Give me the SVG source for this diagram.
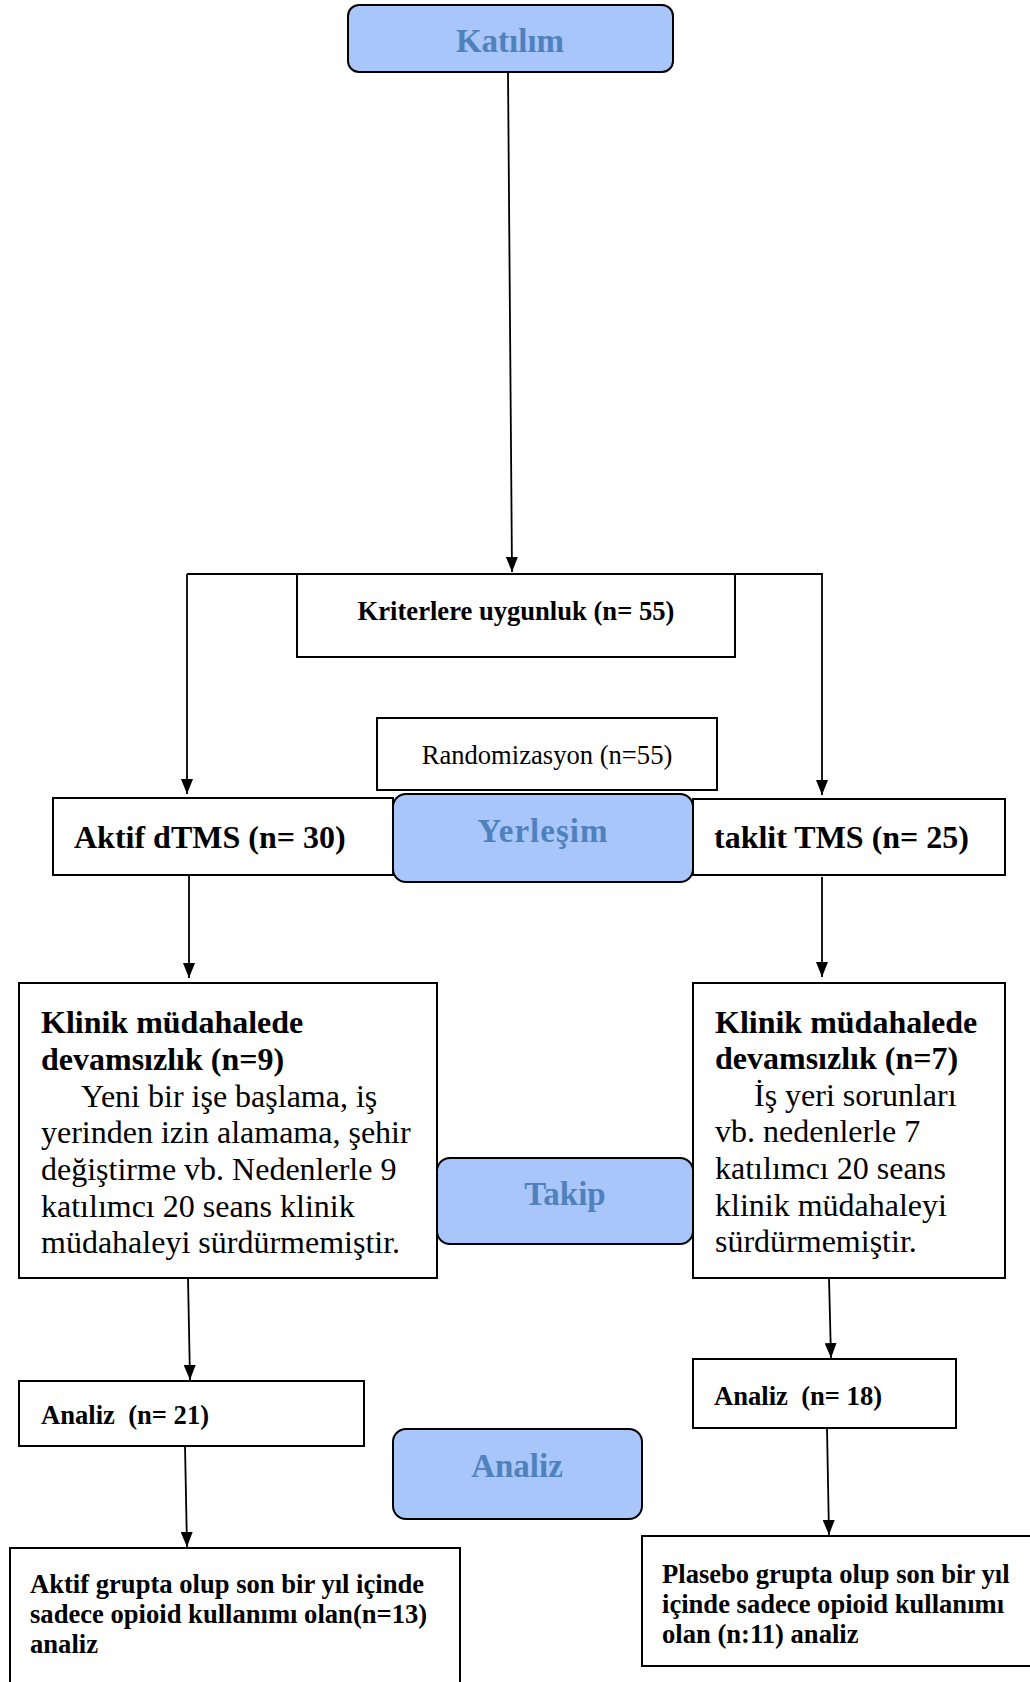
<svg xmlns="http://www.w3.org/2000/svg" width="1030" height="1682" viewBox="0 0 1030 1682">
<style>
.box{fill:#ffffff;stroke:#000000;stroke-width:2}
.blue{fill:#a9c6fa;stroke:#000000;stroke-width:2}
.bt{font-family:"Liberation Serif","Times New Roman",serif;font-weight:bold;fill:#4f81bd;font-size:33px;text-anchor:middle}
.b32{font-family:"Liberation Serif","Times New Roman",serif;font-weight:bold;font-size:32px;fill:#000}
.r32{font-family:"Liberation Serif","Times New Roman",serif;font-size:32px;fill:#000}
.b26{font-family:"Liberation Serif","Times New Roman",serif;font-weight:bold;font-size:26.6px;fill:#000}
.r26{font-family:"Liberation Serif","Times New Roman",serif;font-size:26.6px;fill:#000}
.ln{fill:none;stroke:#000;stroke-width:1.8}
</style>
<defs>
<marker id="ah2" viewBox="0 0 15 12" refX="15" refY="6" markerWidth="15" markerHeight="12" markerUnits="userSpaceOnUse" orient="auto">
<path d="M0,0 L15,6 L0,12 z" fill="#000"/>
</marker>
</defs>
<rect width="1030" height="1682" fill="#ffffff"/>

<g id="connectors">
<line class="ln" x1="508" y1="72" x2="512" y2="572" marker-end="url(#ah2)"/>
<polyline class="ln" points="187,574 822,574 822,795" marker-end="url(#ah2)"/>
<line class="ln" x1="187" y1="574" x2="187" y2="794" marker-end="url(#ah2)"/>
<line class="ln" x1="189" y1="875" x2="189" y2="978" marker-end="url(#ah2)"/>
<line class="ln" x1="822" y1="877" x2="822" y2="977" marker-end="url(#ah2)"/>
<line class="ln" x1="188" y1="1278" x2="190" y2="1380" marker-end="url(#ah2)"/>
<line class="ln" x1="829" y1="1278" x2="831" y2="1358" marker-end="url(#ah2)"/>
<line class="ln" x1="185" y1="1446" x2="187" y2="1547" marker-end="url(#ah2)"/>
<line class="ln" x1="827" y1="1428" x2="829" y2="1535" marker-end="url(#ah2)"/>
</g>

<g id="katilim">
<rect class="blue" x="348" y="5" width="325" height="67" rx="11"/>
<text class="bt" x="510" y="52">Katılım</text>
</g>

<g id="kriterlere">
<rect class="box" x="297" y="574" width="438" height="83"/>
<text class="b26" x="516" y="620" text-anchor="middle">Kriterlere uygunluk (n= 55)</text>
</g>

<g id="randomizasyon">
<rect class="box" x="377" y="718" width="340" height="72"/>
<text class="r26" x="547" y="764" text-anchor="middle">Randomizasyon (n=55)</text>
</g>

<g id="aktif">
<rect class="box" x="53" y="798" width="340" height="77"/>
<text class="b32" x="74" y="848">Aktif dTMS (n= 30)</text>
</g>

<g id="taklit">
<rect class="box" x="693" y="799" width="312" height="76"/>
<text class="b32" x="714" y="848">taklit TMS (n= 25)</text>
</g>

<g id="yerlesim">
<rect class="blue" x="393" y="794" width="300" height="88" rx="13"/>
<text class="bt" x="543" y="842" letter-spacing="1">Yerleşim</text>
</g>

<g id="klinik-sol">
<rect class="box" x="19" y="983" width="418" height="295"/>
<text class="b32" x="41" y="1033">Klinik müdahalede</text>
<text class="b32" x="41" y="1070">devamsızlık (n=9)</text>
<text class="r32" x="81" y="1107">Yeni bir işe başlama, iş</text>
<text class="r32" x="41" y="1143">yerinden izin alamama, şehir</text>
<text class="r32" x="41" y="1180">değiştirme vb. Nedenlerle 9</text>
<text class="r32" x="41" y="1217">katılımcı 20 seans klinik</text>
<text class="r32" x="41" y="1253">müdahaleyi sürdürmemiştir.</text>
</g>

<g id="klinik-sag">
<rect class="box" x="693" y="983" width="312" height="295"/>
<text class="b32" x="715" y="1033">Klinik müdahalede</text>
<text class="b32" x="715" y="1069">devamsızlık (n=7)</text>
<text class="r32" x="754" y="1106">İş yeri sorunları</text>
<text class="r32" x="715" y="1142">vb. nedenlerle 7</text>
<text class="r32" x="715" y="1179">katılımcı 20 seans</text>
<text class="r32" x="715" y="1216">klinik müdahaleyi</text>
<text class="r32" x="715" y="1252">sürdürmemiştir.</text>
</g>

<g id="takip">
<rect class="blue" x="437" y="1158" width="256" height="86" rx="13"/>
<text class="bt" x="565" y="1205">Takip</text>
</g>

<g id="analiz-21">
<rect class="box" x="19" y="1381" width="345" height="65"/>
<text class="b26" x="41" y="1424" xml:space="preserve">Analiz  (n= 21)</text>
</g>

<g id="analiz-18">
<rect class="box" x="693" y="1359" width="263" height="69"/>
<text class="b26" x="714" y="1405" xml:space="preserve">Analiz  (n= 18)</text>
</g>

<g id="analiz">
<rect class="blue" x="393" y="1429" width="249" height="90" rx="13"/>
<text class="bt" x="517" y="1477">Analiz</text>
</g>

<g id="aktif-grup">
<rect class="box" x="10" y="1548" width="450" height="145"/>
<text class="b26" x="30" y="1593">Aktif grupta olup son bir yıl içinde</text>
<text class="b26" x="30" y="1623">sadece opioid kullanımı olan(n=13)</text>
<text class="b26" x="30" y="1653">analiz</text>
</g>

<g id="plasebo-grup">
<rect class="box" x="642" y="1536" width="400" height="130"/>
<text class="b26" x="662" y="1583">Plasebo grupta olup son bir yıl</text>
<text class="b26" x="662" y="1613">içinde sadece opioid kullanımı</text>
<text class="b26" x="662" y="1643">olan (n:11) analiz</text>
</g>
</svg>
